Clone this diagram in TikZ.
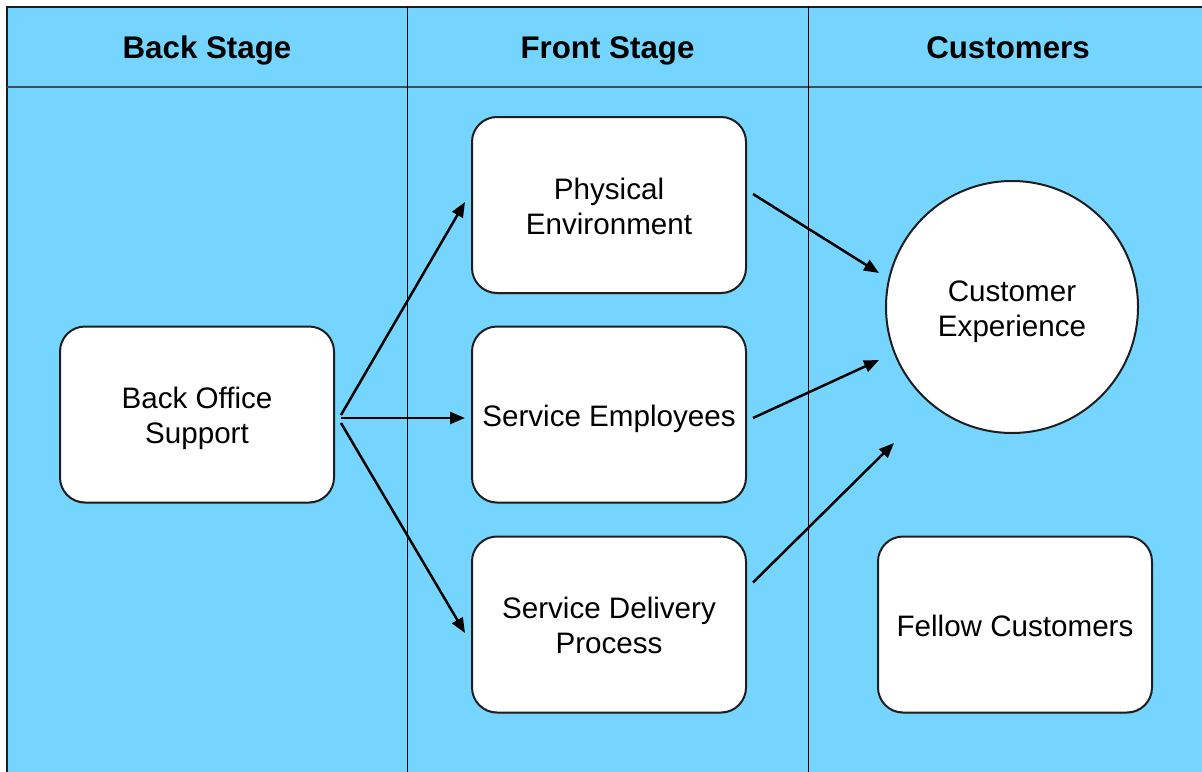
\documentclass[tikz,border=0pt]{standalone}
\usepackage{fontspec}
\setmainfont{Liberation Sans}
\usetikzlibrary{arrows.meta,calc,shadows}
\definecolor{lane}{RGB}{118,213,254}
\definecolor{edge}{RGB}{30,30,30}
% centred block of lines for box labels, set slightly low in its box
\newcommand\boxlines[1]{\raisebox{-4.5pt}[\height][\depth]{\begin{tabular}{@{}c@{}}#1\end{tabular}}}
\begin{document}
\begin{tikzpicture}[x=1pt,y=-1pt,
  stagebox/.style={draw=edge,line width=2pt,fill=white,rounded corners=25pt,
    minimum width=274pt,minimum height=176pt,align=center,
    font=\fontsize{29.6}{35}\selectfont,
    drop shadow={shadow xshift=0pt,shadow yshift=-1.5pt,opacity=0.35}},
  endcircle/.style={draw=edge,line width=2pt,fill=white,circle,
    minimum size=252pt,inner sep=0pt,align=center,
    font=\fontsize{29.6}{35}\selectfont},
  lanehead/.style={anchor=base,font=\fontsize{31.3}{36}\selectfont\bfseries},
  flow/.style={line width=2.5pt,-{Triangle[length=15pt,width=12pt]}}]
\useasboundingbox (0,0) rectangle (1202,771);
\begin{scope}
\clip (0,0) rectangle (1202,771);
% swimlane frame and background
\fill[white] (0,0) rectangle (1202,771);
\filldraw[fill=lane,draw=edge,line width=2pt] (7,7) rectangle (1215,785);
\draw[draw=edge!80,line width=2pt] (7,87) -- (1215,87);
\draw[line width=1pt] (407,7) -- (407,785);
\draw[line width=1pt] (808,7) -- (808,785);
\end{scope}
% lane titles
\node[lanehead] (h1) at (207,58) {Back Stage};
\node[lanehead] (h2) at (607.5,58) {Front Stage};
\node[lanehead] (h3) at (1008,58) {Customers};
% boxes
\node[stagebox] (bos) at (197,414.5) {\boxlines{Back Office\\Support}};
\node[stagebox] (pe)  at (609,205) {\boxlines{Physical\\Environment}};
\node[stagebox] (se)  at (609,414.5) {\boxlines{Service Employees}};
\node[stagebox] (sdp) at (609,624.5) {\boxlines{Service Delivery\\Process}};
\node[stagebox] (fc)  at (1015,624.5) {\boxlines{Fellow Customers}};
\node[endcircle] (ce) at (1012,307) {\boxlines{Customer\\Experience}};
% flows
\draw[flow] ($(bos.east)+(6,0.5)$) -- ($(pe.west)+(-6,-3)$);
\draw[flow] ($(bos.east)+(6,3.5)$) -- ($(se.west)+(-6,3.5)$);
\draw[flow] ($(bos.east)+(6,8.5)$) -- ($(sdp.west)+(-6,8.5)$);
\draw[flow] ($(pe.east)+(6,-11)$) -- ($(ce.west)+(-6,-34)$);
\draw[flow] ($(se.east)+(6,3.5)$) -- ($(ce.west)+(-6,53)$);
\draw[flow] ($(sdp.east)+(6,-42)$) -- ($(ce.west)+(9,136)$);
\end{tikzpicture}
\end{document}
